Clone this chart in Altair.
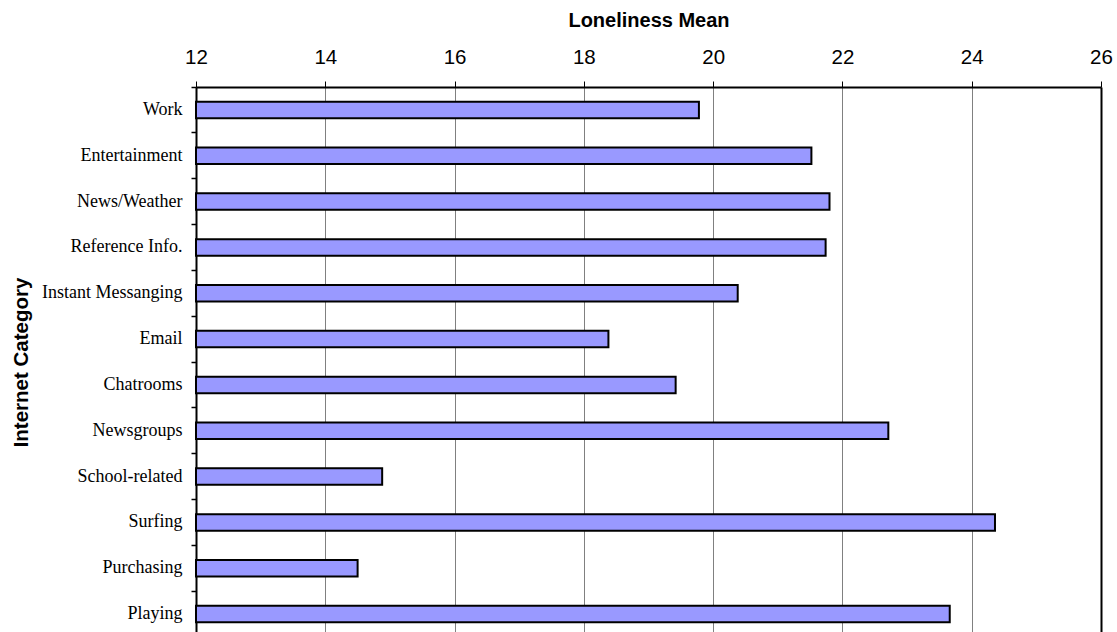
import altair as alt
import pandas as pd

categories = ["Work", "Entertainment", "News/Weather", "Reference Info.",
              "Instant Messanging", "Email", "Chatrooms", "Newsgroups",
              "School-related", "Surfing", "Purchasing", "Playing"]
means = [19.78, 21.52, 21.80, 21.74, 20.38, 18.38, 19.42, 22.71,
         14.88, 24.36, 14.50, 23.66]
tick_values = [12, 14, 16, 18, 20, 22, 24, 26]
axis_min = 12

df = pd.DataFrame({"category": categories, "mean": means})

bars = alt.Chart(df).mark_bar(
    height={"band": 0.36}, fill="#9999FF", stroke="black", strokeWidth=2
).encode(
    x=alt.X(
        "mean:Q",
        scale=alt.Scale(domain=[12, 26], zero=False, nice=False),
        axis=alt.Axis(
            orient="top", values=tick_values, format="d",
            title="Loneliness Mean", titleFont="Liberation Sans",
            titleFontSize=20, titleFontWeight="bold", titleColor="black",
            titleY=-67, titleBaseline="middle", titleAnchor="middle",
            labelFont="Liberation Sans", labelFontSize=20.5, labelColor="black",
            labelFlush=False, labelBaseline="alphabetic", labelPadding=18,
            tickSize=6, tickColor="black", tickWidth=1,
            domain=True, domainColor="black", domainWidth=2,
            grid=True,
            gridColor=alt.condition("datum.value == 26", alt.value("black"), alt.value("#808080")),
            gridWidth=alt.condition("datum.value == 26", alt.value(2), alt.value(1)),
        ),
    ),
    x2=alt.datum(axis_min),
    y=alt.Y(
        "category:N", sort=categories,
        scale=alt.Scale(range=[0, 550], paddingInner=0, paddingOuter=0),
        axis=alt.Axis(
            title="Internet Category", titleFont="Liberation Sans",
            titleFontSize=20.5, titleFontWeight="bold", titleColor="black",
            titleAngle=270, titleX=-175, titleY=275, titleAlign="center",
            titleBaseline="middle",
            labelFont="Liberation Serif", labelFontSize=18, labelColor="black",
            labelPadding=9, bandPosition=0,
            tickSize=5, tickColor="black", tickWidth=1.5,
            domain=True, domainColor="black", domainWidth=2,
            grid=False,
        ),
    ),
)

chart = bars.properties(
    width=905, height=545,
    autosize=alt.AutoSizeParams(type="none"),
    padding={"left": 196, "top": 87, "right": 16, "bottom": 0},
    background="white",
).configure_view(stroke=None)

chart.save("out.html", embed_options={"renderer": "svg", "actions": False})
